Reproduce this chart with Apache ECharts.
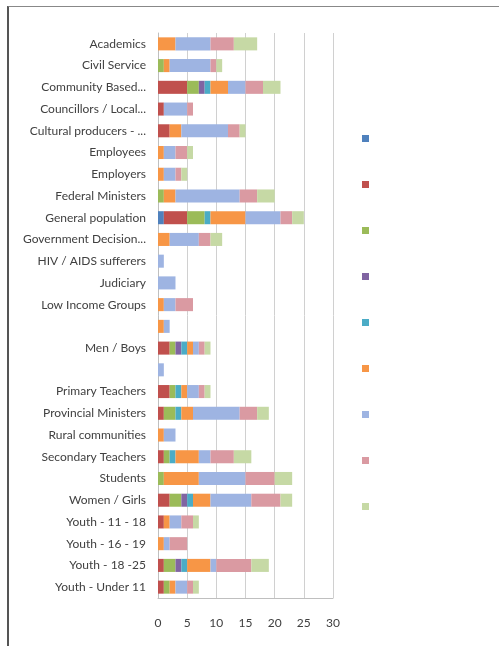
<!DOCTYPE html>
<html>
<head>
<meta charset="utf-8">
<script src="https://cdn.jsdelivr.net/npm/echarts@6/dist/echarts.min.js"></script>
<style>
  html, body { margin: 0; padding: 0; background: #fff; }
  #frame { position: absolute; left: 7px; top: 6px; width: 492px; height: 640px;
           border-left: 2px solid #555; border-top: 1.5px solid #888; box-sizing: border-box; }
  #chart { position: absolute; left: 0; top: 0; width: 499px; height: 646px; }
</style>
</head>
<body>
<div id="frame"></div>
<div id="chart"></div>
<script>
// Stakeholder groups (rows, top to bottom)
const categories = [
  'Academics', 'Civil Service', 'Community Based...', 'Councillors / Local...',
  'Cultural producers - ...', 'Employees', 'Employers', 'Federal Ministers',
  'General population', 'Government Decision...', 'HIV / AIDS sufferers', 'Judiciary',
  'Low Income Groups', ' ', 'Men / Boys', '  ', 'Primary Teachers',
  'Provincial Ministers', 'Rural communities', 'Secondary Teachers', 'Students',
  'Women / Girls', 'Youth - 11 - 18', 'Youth - 16 - 19', 'Youth - 18 -25', 'Youth - Under 11'
];

// One array per stacked segment, same order as categories
const s1 = [0,0,0,0,0,0,0,0,1,0,0,0,0,0,0,0,0,0,0,0,0,0,0,0,0,0];
const s2 = [0,0,5,1,2,0,0,0,4,0,0,0,0,0,2,0,2,1,0,1,0,2,1,0,1,1];
const s3 = [0,1,2,0,0,0,0,1,3,0,0,0,0,0,1,0,1,2,0,1,1,2,0,0,2,1];
const s4 = [0,0,1,0,0,0,0,0,0,0,0,0,0,0,1,0,0,0,0,0,0,1,0,0,1,0];
const s5 = [0,0,1,0,0,0,0,0,1,0,0,0,0,0,1,0,1,1,0,1,0,1,0,0,1,0];
const s6 = [3,1,3,0,2,1,1,2,6,2,0,0,1,1,1,0,1,2,1,4,6,3,1,1,4,1];
const s7 = [6,7,3,4,8,2,2,11,6,5,1,3,2,1,1,1,2,8,2,2,8,7,2,1,1,2];
const s8 = [4,1,3,1,2,2,1,3,2,2,0,0,3,0,1,0,1,3,0,4,5,5,2,3,6,1];
const s9 = [4,1,3,0,1,1,1,3,2,2,0,0,0,0,1,0,1,2,0,3,3,2,1,0,3,1];

// Value axis ticks
const xTicks = { min: 0, max: 30, interval: 5 };

const seriesValues = [s1, s2, s3, s4, s5, s6, s7, s8, s9];
const palette = ['#4F81BD', '#C0504D', '#9BBB59', '#8064A2', '#4BACC6',
                 '#F79646', '#9EB4E2', '#DA9AA2', '#C6D9A5'];
const seriesNames = ['S1','S2','S3','S4','S5','S6','S7','S8','S9'];

const chart = echarts.init(document.getElementById('chart'), null, { renderer: 'canvas' });
chart.setOption({
  animation: false,
  color: palette,
  textStyle: { fontFamily: 'Lato' },
  grid: { left: 158, right: 166, top: 33, bottom: 48, containLabel: false },
  legend: {
    orient: 'vertical',
    left: 357, top: 130,
    itemWidth: 7, itemHeight: 7, itemGap: 39,
    icon: 'rect',
    formatter: () => '',
    data: seriesNames
  },
  xAxis: {
    type: 'value',
    min: xTicks.min, max: xTicks.max, interval: xTicks.interval,
    axisLine: { show: true, lineStyle: { color: '#bfbfbf' } },
    axisTick: { show: false },
    axisLabel: { color: '#404040', fontSize: 12, margin: 19, fontFamily: 'Lato' },
    splitLine: { show: true, lineStyle: { color: '#d0d0d0', width: 1 } }
  },
  yAxis: {
    type: 'category',
    inverse: true,
    data: categories,
    axisLine: { show: true, lineStyle: { color: '#bfbfbf' } },
    axisTick: { show: false },
    axisLabel: { color: '#404040', fontSize: 12, margin: 12, fontFamily: 'Lato' }
  },
  series: seriesValues.map((vals, i) => ({
    name: seriesNames[i],
    type: 'bar',
    stack: 'total',
    barCategoryGap: '40%',
    data: vals
  }))
});
</script>
</body>
</html>
